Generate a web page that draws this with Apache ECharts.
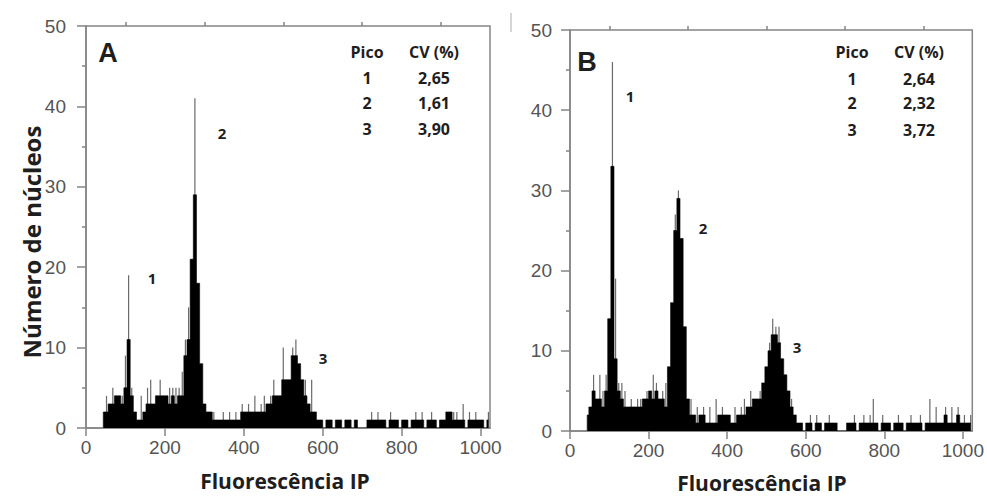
<!DOCTYPE html>
<html>
<head>
<meta charset="utf-8">
<script src="https://cdn.jsdelivr.net/npm/echarts@6/dist/echarts.min.js"></script>
<style>
html,body{margin:0;padding:0;background:#fff;}
#chart{width:987px;height:498px;}
</style>
</head>
<body>
<div id="chart"></div>
<script>
// Histogram bins: channel start of first bin and bin width (channels)
const BIN_START = 40;
const BIN_WIDTH = 8;

// Panel A – main (dense) part of each bin
const coreA = [
  2,2,3,3,4,4,3,5,11,4,
  2,1,1,2,3,3,3,4,4,4,
  4,3,4,3,4,4,9,11,21,29,
  18,8,3,2,2,1,1,1,1,1,
  1,1,1,1,2,2,2,2,2,2,
  2,2,3,3,4,4,4,6,6,6,
  9,9,8,6,4,3,2,2,1,1,
  0,1,1,0,1,1,0,1,1,0,
  1,0,0,0,1,1,1,1,1,1,
  0,1,1,1,0,1,1,0,1,1,
  1,1,0,1,1,1,0,1,1,2,
  2,1,1,1,1,0,1,1,1,1,
  1,0,1
];
// Panel A – highest single channel within each bin
const maxA = [
  2,4,3,5,4,4,4,9,19,5,
  2,1,4,2,5,6,3,4,6,4,
  4,5,5,5,5,7,11,15,21,41,
  18,8,3,2,2,2,1,1,2,1,
  2,1,2,1,3,2,3,2,4,2,
  3,4,3,4,6,4,4,10,6,6,
  10,11,8,6,6,3,6,2,1,1,
  0,1,1,0,1,1,0,1,1,0,
  1,0,0,0,1,2,1,2,1,1,
  0,2,1,1,0,1,1,0,1,2,
  1,2,0,1,2,1,0,1,1,2,
  2,2,2,1,3,0,2,1,2,1,
  1,0,2
];
// Panel B
const coreB = [
  2,3,5,4,4,3,5,14,33,9,
  5,4,3,3,3,3,3,3,4,4,
  5,4,5,4,4,3,8,16,25,29,
  24,13,4,2,2,1,2,2,1,1,
  1,1,2,2,2,2,1,1,2,2,
  2,3,3,4,4,4,6,8,10,12,
  12,11,9,7,5,3,2,1,1,0,
  1,1,0,1,1,0,1,1,1,1,
  0,0,0,1,1,1,0,1,1,1,
  1,1,1,0,1,1,1,0,1,1,
  1,0,1,1,1,1,1,0,1,1,
  1,1,1,1,2,1,1,1,2,1,
  1,1,1
];
const maxB = [
  2,3,7,4,7,5,7,14,46,19,
  6,6,5,3,4,3,4,4,4,5,
  5,7,6,4,5,6,8,16,27,30,
  24,13,4,4,2,3,2,3,1,3,
  1,4,2,3,2,2,1,3,2,3,
  4,3,5,4,4,5,6,8,11,14,
  13,13,9,7,5,4,2,1,1,0,
  1,2,0,2,1,0,1,2,1,1,
  0,0,0,1,1,2,0,1,2,1,
  2,4,1,0,2,1,1,0,1,2,
  1,0,1,2,1,1,2,0,1,4,
  1,3,1,1,3,1,3,1,3,1,
  2,1,2
];

const xMajorTicks = [0,200,400,600,800,1000];
const xMinorTicks = [100,300,500,700,900];
const X_MAX = 1024;
const Y_MAX = 50;

const picos = ['1','2','3'];
const cvA = ['2,65','1,61','3,90'];
const cvB = ['2,64','2,32','3,72'];

function toPairs(arr){
  return arr.map((v,i)=>[BIN_START + BIN_WIDTH*i + BIN_WIDTH/2, v]);
}

const AXIS_COLOR = '#858585';
const LABEL_FONT = {fontFamily:'Liberation Sans', fontSize:19, color:'#555'};
const TXT_FONT = 'Open Sans';
const TXT_COLOR = '#1e1e1e';

function xAxes(gridIndex){
  return [
    {type:'value', gridIndex, min:0, max:X_MAX,
     axisLine:{show:true, lineStyle:{color:AXIS_COLOR, width:1.5}},
     axisTick:{show:true, inside:false, length:8, customValues:xMajorTicks, lineStyle:{color:AXIS_COLOR, width:1.5}},
     axisLabel:Object.assign({customValues:xMajorTicks, margin:10, formatter:(v)=>String(v)}, LABEL_FONT),
     splitLine:{show:false}},
    {type:'value', gridIndex, min:0, max:X_MAX,
     axisLine:{show:false},
     axisTick:{show:true, inside:false, length:4, customValues:xMinorTicks, lineStyle:{color:AXIS_COLOR, width:1.5}},
     axisLabel:{show:false},
     splitLine:{show:false}}
  ];
}
function yAxis(gridIndex, margin){
  return {type:'value', gridIndex, min:0, max:Y_MAX, interval:10,
    axisLine:{show:true, lineStyle:{color:AXIS_COLOR, width:1.5}},
    axisTick:{show:true, inside:false, length:9, lineStyle:{color:AXIS_COLOR, width:1.5}},
    minorTick:{show:true, splitNumber:2, length:4, lineStyle:{color:AXIS_COLOR, width:1.5}},
    axisLabel:Object.assign({margin}, LABEL_FONT),
    splitLine:{show:false}, minorSplitLine:{show:false}};
}
function series(core, max, xi, yi){
  return [
    {type:'bar', xAxisIndex:xi+1, yAxisIndex:yi, data:toPairs(max), barWidth:1.2,
     itemStyle:{color:'#6a6a6a'}, silent:true, animation:false, z:2},
    {type:'line', xAxisIndex:xi, yAxisIndex:yi, data:toPairs(core), step:'middle',
     symbol:'none', lineStyle:{color:'#000', width:0.6},
     areaStyle:{color:'#000', opacity:1}, silent:true, animation:false, z:3}
  ];
}
function txt(x, y, s, size, extra){
  return Object.assign({type:'text', x, y, z:100, style:{text:s, x:0, y:0, fontFamily:TXT_FONT, fontWeight:'bold', fontSize:size, fill:TXT_COLOR, align:'center', verticalAlign:'middle'}}, extra||{});
}
function bigLetter(x, y, s){
  return {type:'text', x, y, z:100, style:{text:s, x:0, y:0, fontFamily:'Liberation Sans', fontWeight:'bold', fontSize:27, fill:TXT_COLOR, align:'center', verticalAlign:'middle'}};
}
function table(xc1, xc2, yHead, rows, cvs){
  const out = [txt(xc1, yHead, 'Pico', 16), txt(xc2, yHead, 'CV (%)', 16)];
  rows.forEach((y,i)=>{ out.push(txt(xc1, y, picos[i], 16)); out.push(txt(xc2, y, cvs[i], 16)); });
  return out;
}

const chart = echarts.init(document.getElementById('chart'), null, {renderer:'svg'});
chart.setOption({
  animation:false,
  backgroundColor:'#fff',
  grid:[
    {left:86, top:26, right:497, bottom:70, show:true, borderColor:AXIS_COLOR, borderWidth:1.5},
    {left:570, top:30, right:13, bottom:67, show:true, borderColor:AXIS_COLOR, borderWidth:1.5}
  ],
  xAxis:[...xAxes(0), ...xAxes(1)],
  yAxis:[yAxis(0,20), yAxis(1,18)],
  series:[...series(coreA, maxA, 0, 0), ...series(coreB, maxB, 2, 1)],
  graphic:[
    bigLetter(108, 53, 'A'),
    bigLetter(587, 62, 'B'),
    ...table(367, 434, 52, [78,103,129], cvA),
    ...table(852, 919, 52, [79,103,130], cvB),
    txt(152, 278, '1', 15), txt(222, 133, '2', 15), txt(323, 358, '3', 15),
    txt(630, 96, '1', 15), txt(703, 228, '2', 15), txt(797, 347, '3', 15),
    txt(31, 242, 'Número de núcleos', 24, {rotation:Math.PI/2}),
    txt(285, 481, 'Fluorescência IP', 21),
    txt(762, 483, 'Fluorescência IP', 21),
    {type:'line', z:100, shape:{x1:511, y1:13, x2:511, y2:32}, style:{stroke:'#c8c8c8', lineWidth:1.5}}
  ]
});
</script>
</body>
</html>
